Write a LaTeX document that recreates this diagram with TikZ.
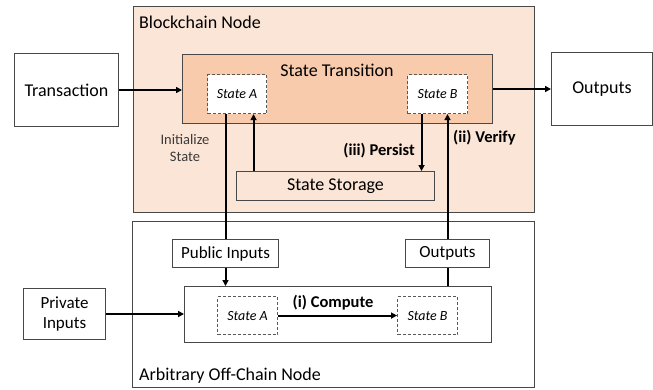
\documentclass[tikz,border=0pt]{standalone}
\usepackage{fontspec}
\setmainfont{Carlito}
\usetikzlibrary{arrows.meta,calc}
\definecolor{bcfill}{HTML}{FBE5D6}
\definecolor{stfill}{HTML}{F8CBAD}
\definecolor{edge}{HTML}{484848}
\definecolor{dedge}{HTML}{595959}
\definecolor{txtgray}{HTML}{3A3A3A}
\tikzset{
  box/.style={draw=edge, line width=1pt, inner sep=0pt, anchor=north west, align=center},
  dbox/.style={draw=dedge, line width=1.1pt, dash pattern=on 3pt off 2pt, fill=white, inner sep=0pt, anchor=north west},
  big/.style={font=\fontsize{18}{21}\selectfont},
  mid/.style={font=\fontsize{17}{20}\selectfont},
  small/.style={font=\fontsize{14}{18}\selectfont\itshape},
  lbl/.style={font=\fontsize{16.5}{19}\selectfont\bfseries, inner sep=0pt},
  conn/.style={line width=2pt, draw=black},
  arr/.style={conn, -{Triangle[length=6pt,width=6pt]}},
}
\begin{document}
\begin{tikzpicture}[x=1pt,y=-1pt]
\useasboundingbox (0,0) rectangle (653,389);
% containers
\node[box, fill=bcfill, minimum width=401pt, minimum height=206pt] (bc) at (133,6) {};
\node[box, fill=white, minimum width=402pt, minimum height=166pt] (off) at (132,221) {};
\node[big, anchor=base west, inner sep=0pt] (bclbl) at (139,28) {Blockchain Node};
\node[big, anchor=base west, inner sep=0pt] (offlbl) at (139,380) {Arbitrary Off-Chain Node};
% blockchain internals
\node[box, fill=stfill, minimum width=310pt, minimum height=69pt] (st) at (182,54) {};
\node[big, inner sep=0pt] (stlbl) at (337,70) {State Transition};
\node[dbox, small, minimum width=59pt, minimum height=39pt] (stA) at (207,74) {State A};
\node[dbox, small, minimum width=60pt, minimum height=39pt] (stB) at (407,74) {State B};
\node[box, big, minimum width=198pt, minimum height=29pt] (sto) at (236,171) {State Storage};
\node[font=\fontsize{14.5}{17.5}\selectfont, text=txtgray, align=center, inner sep=0pt] (init) at (185,148) {Initialize\\State};
% outer nodes
\node[box, big, fill=white, minimum width=104pt, minimum height=73pt] (tx) at (14,53) {Transaction};
\node[box, big, fill=white, minimum width=101pt, minimum height=73pt] (out) at (551,52) {Outputs};
\node[box, mid, fill=white, minimum width=82pt, minimum height=51pt] (priv) at (23,288) {Private\\Inputs};
% off-chain internals
\node[box, mid, fill=white, minimum width=106pt, minimum height=28pt] (pub) at (172,239) {Public Inputs};
\node[box, mid, fill=white, minimum width=84pt, minimum height=28pt] (outs) at (405,239) {Outputs};
\node[box, fill=white, minimum width=307pt, minimum height=56pt] (comp) at (184,286) {};
\node[dbox, small, minimum width=60pt, minimum height=38pt] (cA) at (217,296) {State A};
\node[dbox, small, minimum width=60pt, minimum height=38pt] (cB) at (397,296) {State B};
% connectors
\draw[arr] (tx.east) -- (tx.east -| st.west);
\draw[arr] (st.east |- out.west) -- (out.west);
\draw[conn] (stA.south -| pub.north) -- (pub.north);
\coordinate (upx) at ($(stA.south)+(16.5,0)$);
\draw[arr] (upx |- sto.north) -- (upx);
\coordinate (pdx) at ($(stB.south)+(-16,0)$);
\draw[arr] (pdx) -- (pdx |- sto.north);
\draw[arr] (outs.north) -- (outs.north |- stB.south);
\draw[arr] (pub.south) -- (pub.south |- comp.north);
\draw[conn] (outs.south) -- (outs.south |- comp.north);
\draw[arr] (priv.east) -- (priv.east -| comp.west);
\draw[arr] (cA.east) -- (cB.west);
% labels
\node[lbl, anchor=east] (persist) at (415,151) {(iii) Persist};
\node[lbl, anchor=west] (verify) at (453,138) {(ii) Verify};
\node[lbl] (compute) at (333,303) {(i) Compute};
\end{tikzpicture}
\end{document}
